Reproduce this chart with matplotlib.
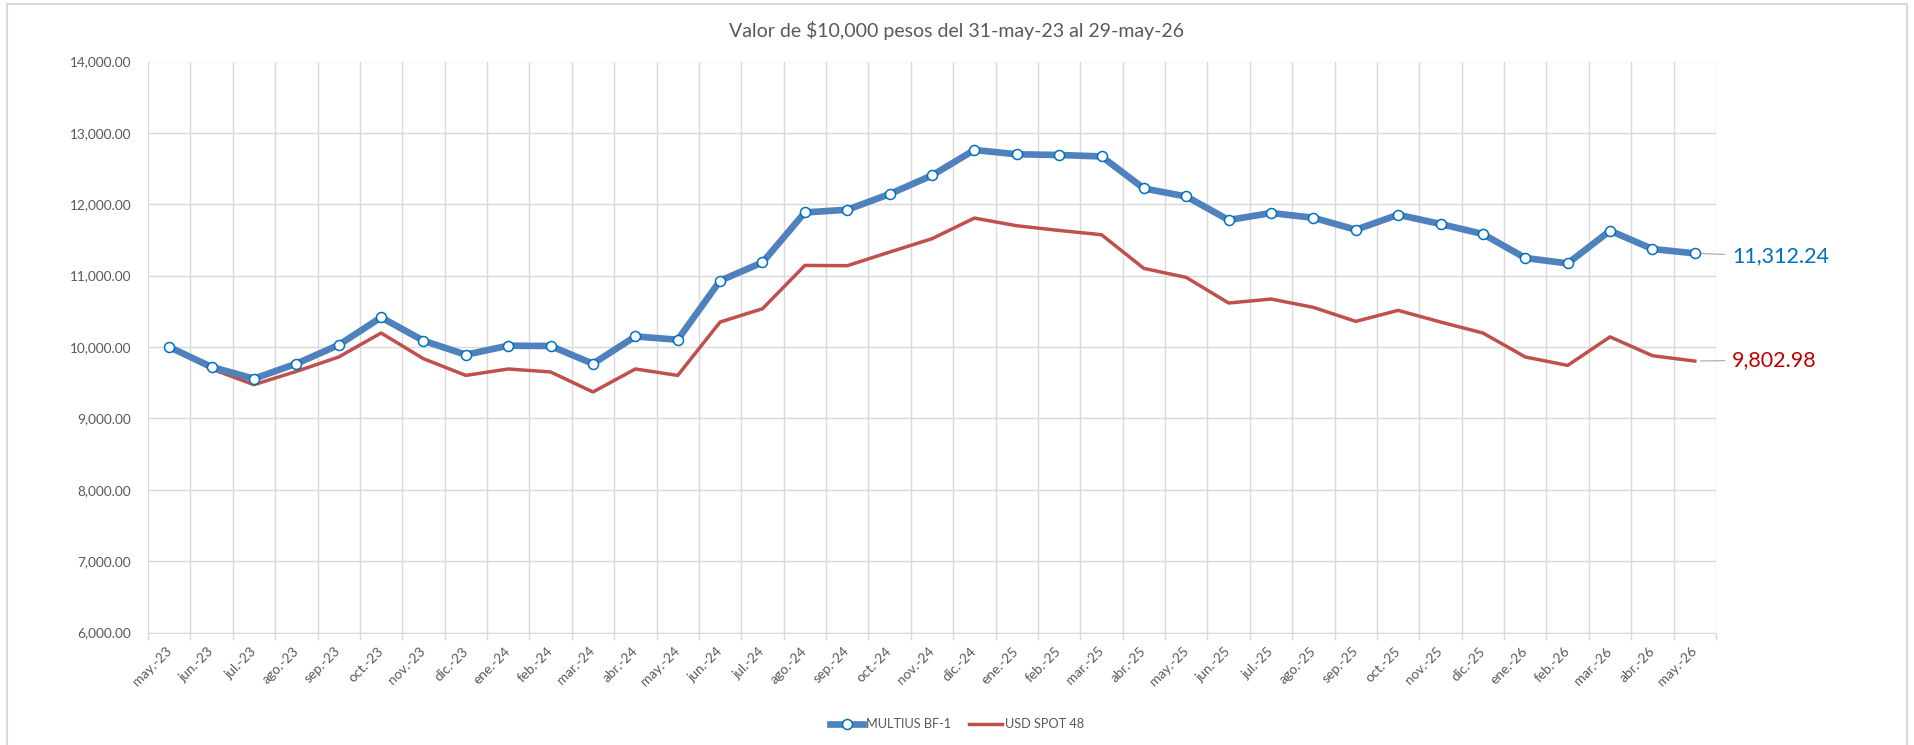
import numpy as np
import matplotlib
matplotlib.use("Agg")
from matplotlib import pyplot as plt
from matplotlib.lines import Line2D
from matplotlib.patches import Rectangle
from matplotlib.ticker import FuncFormatter, MultipleLocator


### data ###
months = ["may.-23", "jun.-23", "jul.-23", "ago.-23", "sep.-23", "oct.-23", "nov.-23", "dic.-23",
          "ene.-24", "feb.-24", "mar.-24", "abr.-24", "may.-24", "jun.-24", "jul.-24", "ago.-24",
          "sep.-24", "oct.-24", "nov.-24", "dic.-24",
          "ene.-25", "feb.-25", "mar.-25", "abr.-25", "may.-25", "jun.-25", "jul.-25", "ago.-25",
          "sep.-25", "oct.-25", "nov.-25", "dic.-25",
          "ene.-26", "feb.-26", "mar.-26", "abr.-26", "may.-26"]

multius = [10000, 9720, 9556, 9766, 10028, 10415, 10088, 9892,
           10018, 10014, 9766, 10148, 10102, 10929, 11185, 11885,
           11923, 12143, 12404, 12760,
           12700, 12690, 12670, 12221, 12109, 11779, 11877, 11811,
           11643, 11853, 11723, 11583,
           11247, 11171, 11629, 11373, 11312.24]

usd = [10000, 9692, 9472, 9658, 9860, 10196, 9836, 9602,
       9692, 9650, 9370, 9692, 9602, 10350, 10536, 11143,
       11139, 11330, 11517, 11806,
       11699, 11633, 11573, 11101, 10975, 10616, 10672, 10555,
       10359, 10513, 10350, 10196,
       9860, 9742, 10142, 9878, 9802.98]

title = "Valor de $10,000 pesos del 31-may-23 al 29-may-26"
names = ["MULTIUS BF-1", "USD SPOT 48"]

### style ###
plt.rcParams['font.family'] = ['Lato', 'DejaVu Sans']
txt_grey = '#595959'
grid_grey = '#d9d9d9'
c_blue = '#4f81bd'
c_mark = '#0070c0'
c_red = '#c0504d'

W, H = 1915, 745
fig = plt.figure(figsize=(W / 100, H / 100), dpi=100)

# plot area in pixels
left, right, top, bottom = 148, 1716, 61.5, 632.5
ax = fig.add_axes([left / W, 1 - bottom / H, (right - left) / W, (bottom - top) / H])

x = np.arange(len(months))
ax.plot(x, usd, color=c_red, lw=2.5, solid_joinstyle='round', zorder=3)
ax.plot(x, multius, color=c_blue, lw=4.8, marker='o', markersize=7.2,
        markerfacecolor='white', markeredgecolor=c_mark, markeredgewidth=1.1,
        solid_joinstyle='round', zorder=4)

ax.set_xlim(-0.5, len(months) - 0.5)
ax.set_ylim(6000, 14000)

# y axis
ax.yaxis.set_major_locator(MultipleLocator(1000))
ax.yaxis.set_major_formatter(FuncFormatter(lambda v, p: f"{v:,.2f}"))
ax.tick_params(axis='y', length=0, pad=12, labelsize=9.8, labelcolor=txt_grey)

# x axis: ticks + grid at boundaries, labels at centers
ax.set_xticks(np.arange(len(months) + 1) - 0.5)
ax.set_xticklabels([])
ax.set_xticks(x, minor=True)
ax.set_xticklabels(months, minor=True, rotation=45, ha='right', va='center',
                   rotation_mode='anchor')
ax.tick_params(axis='x', which='major', length=5, width=1, color=grid_grey)
ax.tick_params(axis='x', which='minor', length=0, pad=12, labelsize=9.8, labelcolor=txt_grey)

ax.grid(True, which='major', color=grid_grey, lw=1)
ax.set_axisbelow(True)
for s in ax.spines.values():
    s.set_visible(False)
ax.spines['bottom'].set_visible(True)
ax.spines['bottom'].set_color(grid_grey)

# end labels
ax.annotate(f"{multius[-1]:,.2f}", xy=(x[-1], multius[-1]), xytext=(37, -3),
            textcoords='offset pixels', ha='left', va='center', fontsize=15.5,
            color=c_mark, annotation_clip=False,
            arrowprops=dict(arrowstyle='-', color='#a6a6a6', lw=0.8, shrinkA=3, shrinkB=4))
ax.annotate(f"{usd[-1]:,.2f}", xy=(x[-1], usd[-1]), xytext=(37, 1),
            textcoords='offset pixels', ha='left', va='center', fontsize=15.5,
            color='#c00000', annotation_clip=False,
            arrowprops=dict(arrowstyle='-', color='#a6a6a6', lw=0.8, shrinkA=3, shrinkB=4))

# title centered on chart area
fig.text(957 / W, 1 - 30 / H, title, ha='center', va='center', fontsize=14, color=txt_grey)

# legend
handles = [Line2D([], [], color=c_blue, lw=4.8, marker='o', markersize=7.2,
                  markerfacecolor='white', markeredgecolor=c_mark, markeredgewidth=1.1),
           Line2D([], [], color=c_red, lw=2.5)]
fig.legend(handles, names, loc='center', bbox_to_anchor=(957 / W, 1 - 724 / H), ncol=2,
           frameon=False, fontsize=9.2, handlelength=2.6, handletextpad=0.2,
           columnspacing=1.4, labelcolor=txt_grey)

# chart border
fig.patches.append(Rectangle((7 / W, -0.02), 1900 / W, 1.02 - 4 / H, transform=fig.transFigure,
                             fill=False, edgecolor=grid_grey, lw=1.5))

fig.savefig("out.png", dpi=100, facecolor='white')
